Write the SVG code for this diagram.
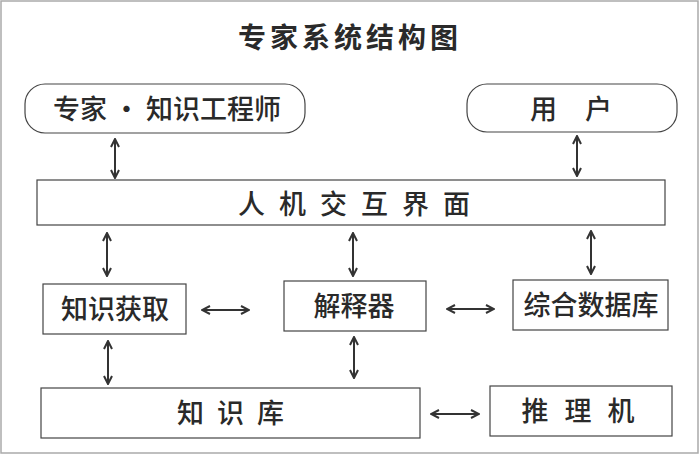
<svg xmlns="http://www.w3.org/2000/svg" width="700" height="455" viewBox="0 0 700 455">
<style>
text{font-family:"Noto Sans CJK SC","Liberation Sans",sans-serif;fill:#2a2a2a;text-anchor:middle}
.box{fill:#fff;stroke:#444;stroke-width:1.2}
.lbl{font-size:27px;font-weight:500}
.con{stroke:#333;stroke-width:2;fill:none;marker-start:url(#ah);marker-end:url(#ah)}
</style>
<defs>
<marker id="ah" viewBox="0 0 10 10" refX="9" refY="5" markerWidth="5" markerHeight="5" orient="auto-start-reverse" markerUnits="strokeWidth">
<polyline points="1,1 9,5 1,9" fill="none" stroke="#333" stroke-width="2"/>
</marker>
</defs>
<rect x="0" y="0" width="700" height="455" fill="#fff"/>
<rect x="1" y="1" width="697" height="452" fill="none" stroke="#aaa" stroke-width="1.5"/>
<text x="350" y="48" font-size="28" font-weight="bold" letter-spacing="4">专家系统结构图</text>
<g id="expert"><rect class="box" x="25" y="84" width="280" height="49" rx="20"/><text class="lbl" x="167" y="119">专家 • 知识工程师</text></g>
<g id="user"><rect class="box" x="467" y="84" width="210" height="48" rx="20"/><text class="lbl" x="585" y="119" letter-spacing="28">用户</text></g>
<g id="interface"><rect class="box" x="37" y="180" width="628" height="45"/><text class="lbl" x="361" y="214" letter-spacing="14">人机交互界面</text></g>
<g id="acquire"><rect class="box" x="43" y="284" width="143" height="50"/><text class="lbl" x="115" y="319">知识获取</text></g>
<g id="explain"><rect class="box" x="284" y="281" width="142" height="50"/><text class="lbl" x="354" y="316">解释器</text></g>
<g id="database"><rect class="box" x="513" y="280" width="155" height="50"/><text class="lbl" x="591" y="315">综合数据库</text></g>
<g id="kb"><rect class="box" x="41" y="388" width="379" height="50"/><text class="lbl" x="237" y="423" letter-spacing="13">知识库</text></g>
<g id="infer"><rect class="box" x="490" y="386" width="182" height="50"/><text class="lbl" x="586" y="421" letter-spacing="16">推理机</text></g>
<g id="connectors">
<line class="con" x1="115" y1="139" x2="115" y2="178"/>
<line class="con" x1="577" y1="136" x2="577" y2="176"/>
<line class="con" x1="107" y1="233" x2="107" y2="276"/>
<line class="con" x1="353" y1="233" x2="353" y2="276"/>
<line class="con" x1="591" y1="231" x2="591" y2="274"/>
<line class="con" x1="202" y1="310" x2="249" y2="310"/>
<line class="con" x1="447" y1="309" x2="494" y2="309"/>
<line class="con" x1="108" y1="341" x2="108" y2="384"/>
<line class="con" x1="354" y1="337" x2="354" y2="378"/>
<line class="con" x1="431" y1="414" x2="479" y2="414"/>
</g>
</svg>
